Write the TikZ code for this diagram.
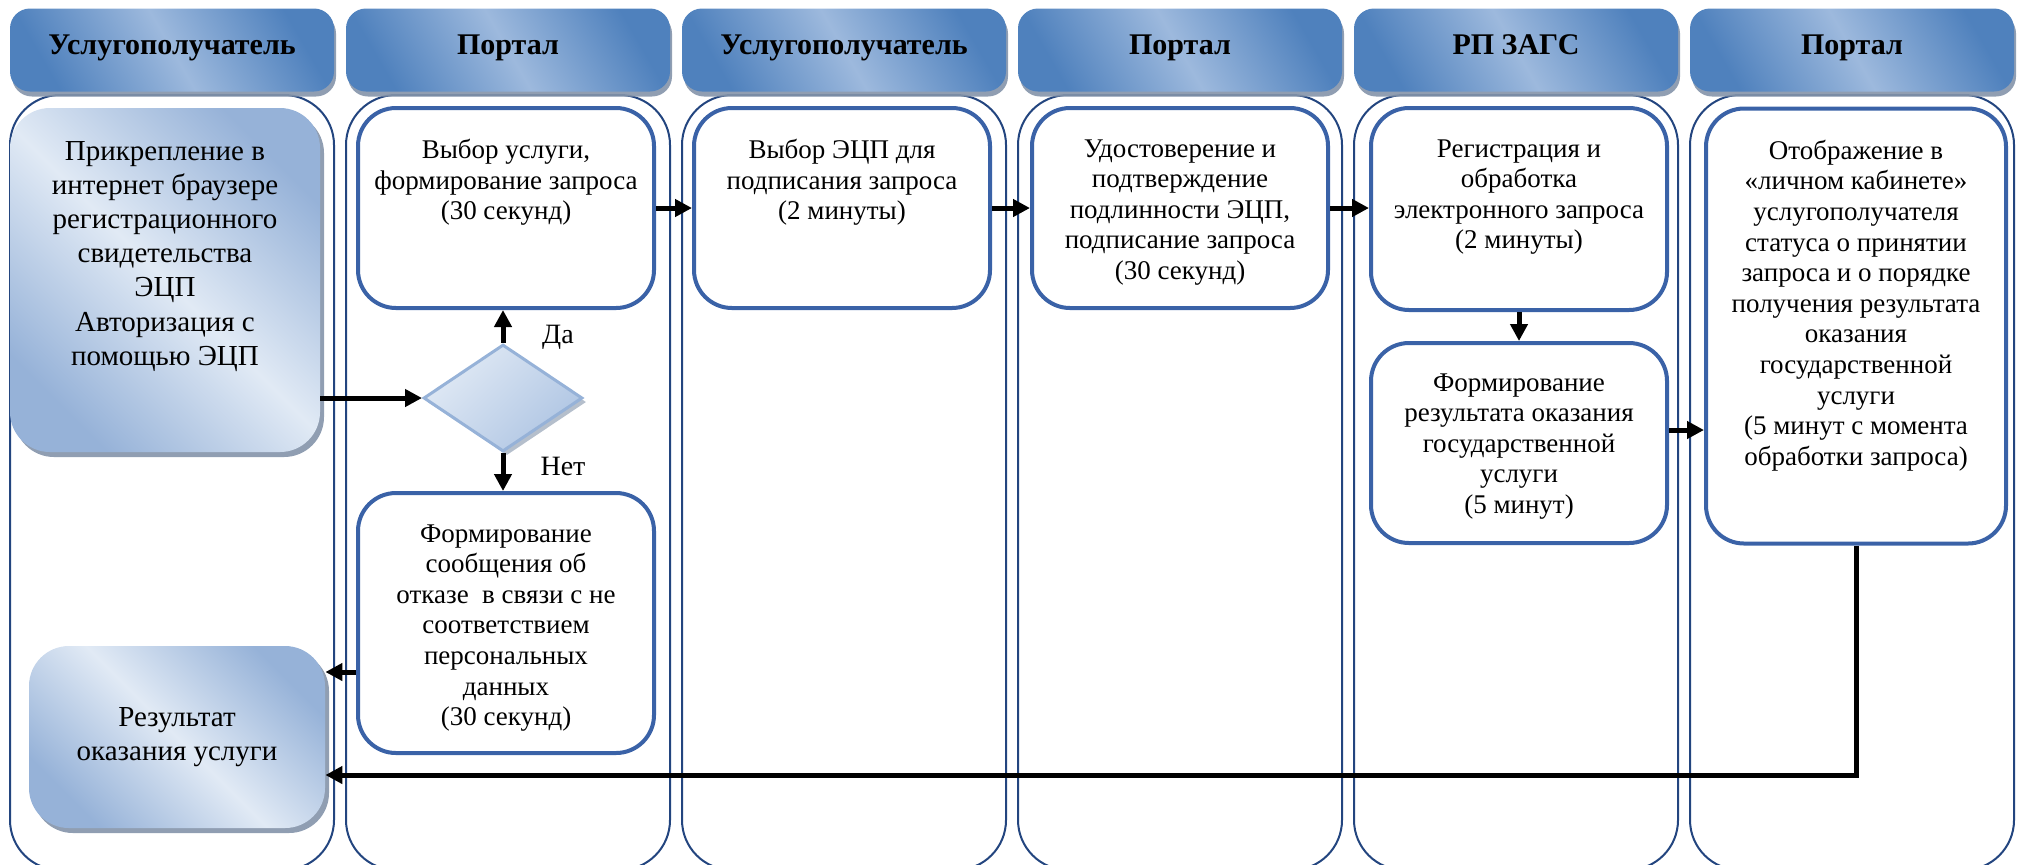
\documentclass[tikz,border=0pt]{standalone}
\usepackage{fontspec}
\setmainfont{Liberation Serif}
\usetikzlibrary{positioning,arrows.meta,shapes.geometric,shadows}

\definecolor{lanec}{HTML}{23457F}
\definecolor{boxc}{HTML}{3A62A7}
\definecolor{hdrdark}{HTML}{4F81BD}
\definecolor{hdrlight}{HTML}{9DB9DD}
\definecolor{pale}{HTML}{E1EAF5}
\definecolor{mid}{HTML}{96B2D8}
\definecolor{dmid}{HTML}{AFC5E3}
\definecolor{shade}{HTML}{8494AA}

\newcommand{\hdrfont}{\fontsize{15}{18}\selectfont\bfseries}
\newcommand{\boxfont}{\fontsize{13.5}{15.3}\selectfont}
\newcommand{\bigfont}{\fontsize{14.5}{17.1}\selectfont}
\newcommand{\lblfont}{\fontsize{14}{17}\selectfont}

\begin{document}
\begin{tikzpicture}[x=0.5pt, y=-0.5pt,
  lane/.style={draw=lanec, line width=1pt, rounded corners=25pt},
  hdr/.style={rounded corners=10pt, minimum width=162pt, minimum height=41.5pt,
    text height=10pt, text depth=6pt, top color=hdrdark, bottom color=hdrdark,
    middle color=hdrlight, shading angle=-60, font=\hdrfont,
    drop shadow={shadow xshift=1pt, shadow yshift=-2.5pt, fill=shade, opacity=.9}},
  wbox/.style={draw=boxc, line width=2pt, fill=white, rounded corners=19pt, minimum width=148pt},
  gbox/.style={rounded corners=20pt, top color=mid, bottom color=mid, middle color=pale,
    shading angle=-45,
    drop shadow={shadow xshift=2pt, shadow yshift=-2.5pt, fill=shade, opacity=.9}},
  txt/.style={align=center, inner sep=0pt, font=\boxfont},
  bigtxt/.style={align=center, inner sep=0pt, font=\bigfont},
  flow/.style={line width=2.5pt, -{Triangle[length=8.5pt, width=8.5pt]}},
  lbl/.style={font=\lblfont}]
\useasboundingbox (0,0) rectangle (2022,864);

% lanes with their headers
\foreach \i/\name in {0/Услугополучатель, 1/Портал, 2/Услугополучатель, 3/Портал, 4/РП ЗАГС, 5/Портал}{
  \draw[lane] (10+336*\i,95) rectangle (334+336*\i,870);
  \node[hdr] (h\i) at (172+336*\i,50) {\name};
}

% boxes
\node[gbox, minimum width=155pt, minimum height=172pt] (1) at (165,280) {};
\node[bigtxt, below=16.5pt of 1.north] (1t) {Прикрепление в\\интернет браузере\\регистрационного\\свидетельства\\ЭЦП\\Авторизация с\\помощью ЭЦП};
\node[wbox, minimum height=100pt] (2) at (506,208) {};
\node[txt, below=16.5pt of 2.north] (2t) {Выбор услуги,\\формирование запроса\\(30 секунд)};
\node[diamond, draw=mid, line width=1.5pt, top color=pale, bottom color=dmid, shading angle=45,
  inner sep=0pt, minimum width=79.5pt, minimum height=53.5pt,
  drop shadow={shadow xshift=2pt, shadow yshift=-2pt, fill=shade, opacity=.6}] (3) at (503,398) {};
\node[wbox, minimum height=130pt] (4) at (506,623) {};
\node[txt, below=16.5pt of 4.north] (4t) {Формирование\\сообщения об\\отказе\ \ в связи с не\\соответствием\\персональных\\данных\\(30 секунд)};
\node[gbox, minimum width=148pt, minimum height=91pt, align=center, font=\bigfont] (5) at (177,737) {Результат\\оказания услуги};
\node[wbox, minimum height=100pt] (6) at (842,208) {};
\node[txt, below=16.5pt of 6.north] (6t) {Выбор ЭЦП для\\подписания запроса\\(2 минуты)};
\node[wbox, minimum height=100pt] (7) at (1180,208) {};
\node[txt, below=16.5pt of 7.north] (7t) {Удостоверение и\\подтверждение\\подлинности ЭЦП,\\подписание запроса\\(30 секунд)};
\node[wbox, minimum height=101pt] (8) at (1519,209) {};
\node[txt, below=16.5pt of 8.north] (8t) {Регистрация и\\обработка\\электронного запроса\\(2 минуты)};
\node[wbox, minimum height=100pt] (9) at (1519,443) {};
\node[txt, below=16pt of 9.north] (9t) {Формирование\\результата оказания\\государственной\\услуги\\(5 минут)};
\node[wbox, minimum width=150pt, minimum height=217.5pt] (10) at (1856,326) {};
\node[txt, below=16.5pt of 10.north] (10t) {Отображение в\\«личном кабинете»\\услугополучателя\\статуса о принятии\\запроса и о порядке\\получения результата\\оказания\\государственной\\услуги\\(5 минут с момента\\обработки запроса)};

% arrows
\draw[flow] (1.east |- 3.west) -- (3.west);
\draw[flow] (3.north) -- (3.north |- 2.south);
\node[lbl] (yes) at (558,337) {Да};
\draw[flow] (3.south) -- (3.south |- 4.north);
\node[lbl] (no) at (563,466) {Нет};
\coordinate (c4) at ([yshift=-24.5pt]4.west);
\draw[flow] (c4) -- (c4 -| 5.east);
\draw[flow] (2.east) -- (2.east -| 6.west);
\draw[flow] (6.east) -- (6.east -| 7.west);
\draw[flow] (7.east) -- (7.east -| 8.west);
\draw[flow] (8.south) -- (8.south |- 9.north);
\coordinate (c9) at ([yshift=6.5pt]9.east);
\draw[flow] (c9) -- (c9 -| 10.west);
\coordinate (c5) at ([yshift=-19pt]5.east);
\draw[flow] (10.south) |- (c5);
\end{tikzpicture}
\end{document}
